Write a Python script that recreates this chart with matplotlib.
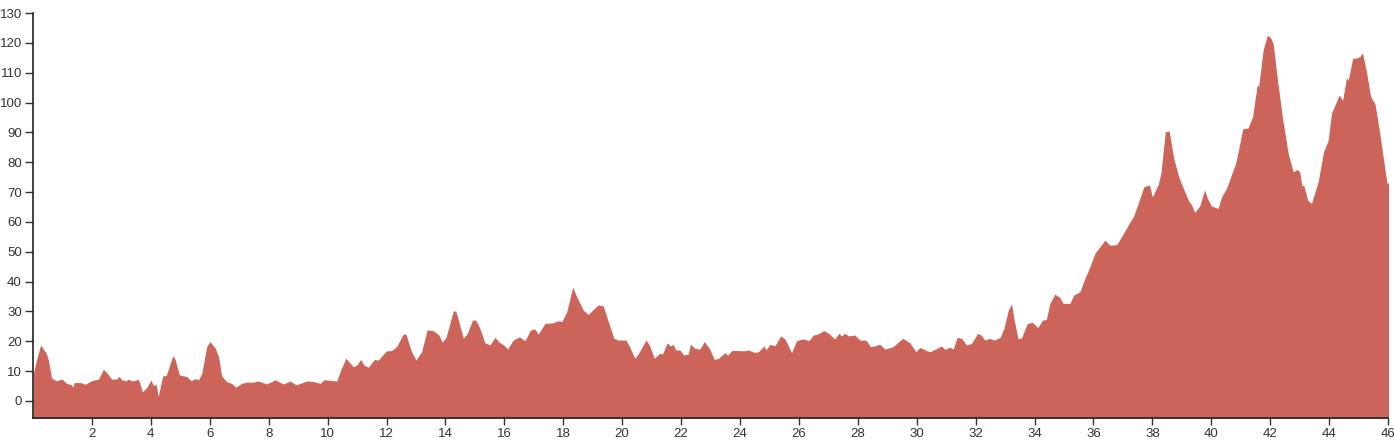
import numpy as np
import matplotlib
matplotlib.use("Agg")
import matplotlib.pyplot as plt

# distance (km) and elevation (m)
dist = [0.0, 0.1, 0.26, 0.35, 0.45, 0.52, 0.63, 0.80, 0.97, 1.14, 1.31, 1.35, 1.40,
        1.65, 1.77, 1.99, 2.22, 2.39, 2.52, 2.67, 2.84, 2.92, 3.01, 3.16, 3.21,
        3.40, 3.58, 3.71, 3.86, 4.00, 4.09, 4.18, 4.25, 4.40, 4.52, 4.74, 4.82,
        4.97, 5.22, 5.36, 5.51, 5.62, 5.73, 5.90, 6.01, 6.19, 6.30, 6.40, 6.57,
        6.74, 6.88, 7.08, 7.25, 7.48, 7.65, 7.93, 8.22, 8.50, 8.73, 8.93, 9.13,
        9.30, 9.52, 9.75, 9.88, 10.2, 10.31, 10.45, 10.62, 10.87, 10.99, 11.12,
        11.24, 11.38, 11.59, 11.72, 12.0, 12.18, 12.34, 12.57, 12.66, 12.85, 13.0,
        13.19, 13.38, 13.58, 13.78, 13.89, 14.02, 14.27, 14.36, 14.61, 14.74,
        14.92, 15.03, 15.17, 15.34, 15.51, 15.68, 15.85, 15.98, 16.11, 16.30,
        16.51, 16.70, 16.89, 17.04, 17.15, 17.38, 17.66, 17.83, 17.95, 18.12,
        18.32, 18.48, 18.69, 18.85, 19.02, 19.19, 19.36, 19.53, 19.72, 19.87,
        20.13, 20.24, 20.43, 20.54, 20.81, 20.92, 21.09, 21.28, 21.37, 21.53,
        21.64, 21.73, 21.82, 21.96, 22.09, 22.24, 22.32, 22.47, 22.64, 22.79,
        22.96, 23.13, 23.27, 23.49, 23.58, 23.72, 23.95, 24.12, 24.29, 24.48,
        24.63, 24.81, 24.88, 25.02, 25.19, 25.38, 25.53, 25.75, 25.92, 26.15,
        26.34, 26.49, 26.63, 26.85, 27.0, 27.22, 27.36, 27.45, 27.56, 27.68,
        27.90, 28.07, 28.28, 28.43, 28.58, 28.75, 28.92, 29.2, 29.52, 29.77,
        29.97, 30.11, 30.33, 30.45, 30.62, 30.84, 30.96, 31.13, 31.24, 31.37,
        31.52, 31.69, 31.86, 32.07, 32.18, 32.32, 32.47, 32.63, 32.83, 32.96,
        33.11, 33.22, 33.31, 33.44, 33.56, 33.75, 33.92, 34.11, 34.27, 34.40,
        34.52, 34.69, 34.86, 34.97, 35.2, 35.33, 35.54, 35.71, 35.88, 36.05,
        36.22, 36.39, 36.56, 36.79, 36.95, 37.18, 37.35, 37.52, 37.71, 37.90,
        38.0, 38.20, 38.29, 38.44, 38.57, 38.72, 38.90, 39.05, 39.22, 39.33,
        39.44, 39.61, 39.77, 39.87, 40.0, 40.23, 40.35, 40.52, 40.64, 40.84,
        40.97, 41.07, 41.25, 41.40, 41.56, 41.61, 41.76, 41.90, 42.01, 42.10,
        42.24, 42.42, 42.61, 42.78, 42.92, 43.0, 43.07, 43.15, 43.27, 43.40,
        43.63, 43.81, 43.97, 44.08, 44.2, 44.34, 44.46, 44.59, 44.65, 44.80,
        44.97, 45.06, 45.13, 45.27, 45.41, 45.56, 45.72, 45.89, 45.97, 46.05]
elev = [8.7, 13, 18.8, 17.3, 16, 13.7, 7.7, 6.7, 7.4, 5.9, 5.4, 4.6, 6.2,
        6.1, 5.6, 6.8, 7.3, 10.6, 9.3, 7.3, 7.4, 8.2, 7.1, 6.7, 7.3,
        6.7, 7.3, 3.1, 4.5, 7.0, 5.1, 5.6, 1.5, 8.4, 8.5, 15.1, 14.0,
        8.7, 8.2, 6.8, 7.5, 7.1, 9.3, 18.4, 19.9, 17.6, 14.8, 8.4, 6.5,
        5.9, 4.6, 5.9, 6.3, 6.3, 6.7, 5.7, 7.1, 5.7, 6.7, 5.4, 6.1,
        6.7, 6.5, 5.9, 7.1, 6.8, 6.7, 10.5, 14.3, 11.5, 12.0, 13.9,
        12.0, 11.3, 13.9, 13.7, 16.8, 16.9, 18.2, 22.4, 22.4, 16.5, 13.7,
        16.5, 23.8, 23.6, 22.1, 19.7, 21.3, 30.3, 29.9, 21.0, 22.6,
        27.1, 27.1, 24.3, 19.5, 18.8, 21.3, 19.5, 18.8, 17.4, 20.4,
        21.5, 20.2, 23.8, 24.1, 22.4, 26.0, 26.2, 26.9, 26.6, 29.9,
        38.1, 34.4, 30.3, 29.0, 30.7, 32.2, 31.8, 26.6, 21.0, 20.4,
        20.4, 18.4, 14.3, 15.7, 20.4, 18.8, 14.3, 16.0, 15.7, 19.5,
        18.4, 19.0, 17.1, 17.1, 15.4, 15.7, 19.0, 17.6, 17.4, 19.9,
        17.6, 13.9, 14.3, 16.2, 15.3, 16.9, 16.9, 16.8, 17.1, 16.3,
        16.5, 18.5, 17.1, 19.0, 18.5, 21.8, 20.7, 16.2, 20.2, 20.8,
        20.2, 22.1, 22.4, 23.6, 22.7, 20.8, 22.7, 21.8, 22.7, 21.8,
        22.1, 20.4, 20.4, 18.2, 18.5, 19.0, 17.4, 18.2, 21.0, 19.5,
        16.5, 17.9, 16.9, 16.5, 17.3, 18.4, 17.3, 18.0, 17.4, 21.3,
        21.0, 18.8, 19.3, 22.7, 22.1, 20.4, 21.0, 20.4, 21.3, 24.3,
        30.5, 32.5, 27.1, 20.8, 21.2, 25.9, 26.4, 24.6, 27.1, 27.3,
        32.7, 35.8, 34.7, 32.7, 32.7, 35.5, 36.6, 41.1, 45.0, 49.5,
        51.7, 53.9, 52.2, 52.4, 55.0, 59.0, 61.7, 66.2, 71.8, 72.4,
        68.4, 72.6, 76.3, 90.2, 90.5, 81.5, 75.0, 71.3, 67.3, 65.7,
        63.2, 65.4, 70.7, 67.9, 65.4, 64.5, 68.4, 71.3, 74.6, 80.0,
        86.3, 91.2, 91.5, 95.2, 105.9, 105.5, 117.6, 122.6, 121.8, 119.8,
        108.1, 94.7, 83.0, 76.8, 77.6, 76.8, 72.4, 72.0, 67.3, 66.2,
        73.5, 83.5, 87.4, 96.4, 99.2, 102.5, 100.8, 108.4, 107.5, 114.8,
        115.0, 115.6, 116.7, 110.3, 102.0, 99.5, 89.7, 78.0, 72.7, 73.7]

y_ticks = list(range(0, 131, 10))
x_ticks = list(range(2, 47, 2))

plt.rcParams['font.family'] = ['Liberation Sans', 'DejaVu Sans']

fig = plt.figure(figsize=(13.94, 4.44), dpi=100)
ax = fig.add_axes([0.0237, 0.0586, 0.972, 0.912])

ax.fill_between(dist, -5.7, elev, color='#cd645a', linewidth=0)

ax.set_xlim(0, 46)
ax.set_ylim(-5.7, 130)
ax.set_xticks(x_ticks)
ax.set_yticks(y_ticks)
ax.tick_params(labelsize=9.5, colors='#333333', length=6, width=1)
ax.tick_params(axis='x', length=5, pad=2)
ax.tick_params(axis='y', pad=2)

for side in ['top', 'right']:
    ax.spines[side].set_visible(False)
for side in ['left', 'bottom']:
    ax.spines[side].set_color('#222222')
    ax.spines[side].set_linewidth(1.2)

fig.savefig("out.png", dpi=100)
